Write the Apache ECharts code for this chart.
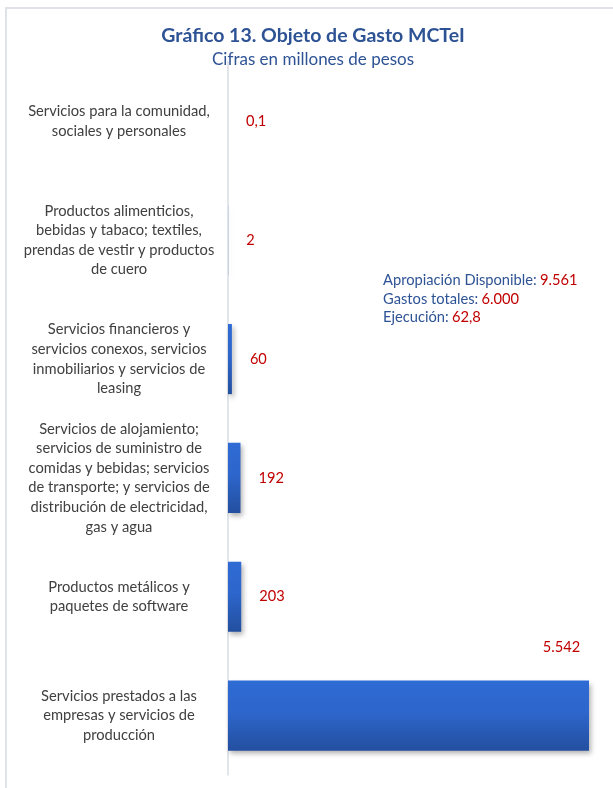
<!DOCTYPE html>
<html><head><meta charset="utf-8">
<script src="https://cdn.jsdelivr.net/npm/echarts@6/dist/echarts.min.js"></script>
<style>html,body{margin:0;padding:0;background:#fff}#c{width:613px;height:788px}</style>
</head><body><div id="c"></div>
<script>
const categories = [
  "Servicios para la comunidad,\nsociales y personales",
  "Productos alimenticios,\nbebidas y tabaco; textiles,\nprendas de vestir y productos\nde cuero",
  "Servicios financieros y\nservicios conexos, servicios\ninmobiliarios y servicios de\nleasing",
  "Servicios de alojamiento;\nservicios de suministro de\ncomidas y bebidas; servicios\nde transporte; y servicios de\ndistribución de electricidad,\ngas y agua",
  "Productos metálicos y\npaquetes de software",
  "Servicios prestados a las\nempresas y servicios de\nproducción"
];
const values = [0.1, 2, 60, 192, 203, 5542];
const summaryLabels = ["Apropiación Disponible", "Gastos totales", "Ejecución"];
const summaryValues = ["9.561", "6.000", "62,8"];

const FONT = "Lato";
function fmt(v){
  const s = String(v).split('.');
  const ip = s[0].replace(/\B(?=(\d{3})+(?!\d))/g, '.');
  return s.length > 1 ? ip + ',' + s[1] : ip;
}
const grad = new echarts.graphic.LinearGradient(0,0,0,1,[{offset:0,color:'#2f6bd4'},{offset:0.45,color:'#2d66cc'},{offset:1,color:'#234f9f'}]);
const data = values.map((v,i) => {
  const d = {value: v};
  if (i === values.length - 1) {
    d.label = {position: 'top', offset: [153, -8]};
  }
  return d;
});
const chart = echarts.init(document.getElementById('c'));
chart.setOption({
  animation: false,
  textStyle: {fontFamily: FONT},
  title: {
    text: 'Gráfico 13. Objeto de Gasto MCTeI',
    subtext: 'Cifras en millones de pesos',
    left: 308, textAlign: 'center', top: 19, itemGap: 3,
    textStyle: {fontFamily: FONT, fontSize: 19.5, fontWeight: 'bold', color: '#2e5395', lineHeight: 24},
    subtextStyle: {fontFamily: FONT, fontSize: 17, color: '#2e5395'}
  },
  grid: {left: 228, right: 24, top: 62, bottom: 13, containLabel: false},
  xAxis: {type: 'value', min: 0, max: 'dataMax', show: false},
  yAxis: {
    type: 'category', data: categories, inverse: true,
    axisLine: {show: true, lineStyle: {color: '#d9dde3', width: 1.5}},
    axisTick: {show: false},
    axisLabel: {align: 'center', margin: 109, fontSize: 14.7, lineHeight: 19.6, color: '#404040', fontFamily: FONT}
  },
  series: [{
    type: 'bar', data: data, barCategoryGap: '41%',
    itemStyle: {color: grad, shadowColor: 'rgba(0,0,0,0.3)', shadowBlur: 5, shadowOffsetX: 2, shadowOffsetY: 3},
    label: {show: true, position: 'right', distance: 18, color: '#c00000', fontSize: 14.6, fontFamily: FONT,
      formatter: p => fmt(p.value)}
  }],
  graphic: [
    {type: 'rect', shape: {x: 6, y: 8, width: 640, height: 820}, style: {fill: 'none', stroke: '#dfe3e9', lineWidth: 2}, silent: true},
    {type: 'text', left: 383, top: 273, style: {
      text: summaryLabels.map((l,i) => '{b|' + l + ':} {r|' + summaryValues[i] + '}').join('\n'),
      rich: {b: {fill: '#2e5395', fontSize: 14.7, fontFamily: FONT, lineHeight: 18.5}, r: {fill: '#c00000', fontSize: 14.7, fontFamily: FONT, lineHeight: 18.5}}
    }}
  ]
});
</script></body></html>
